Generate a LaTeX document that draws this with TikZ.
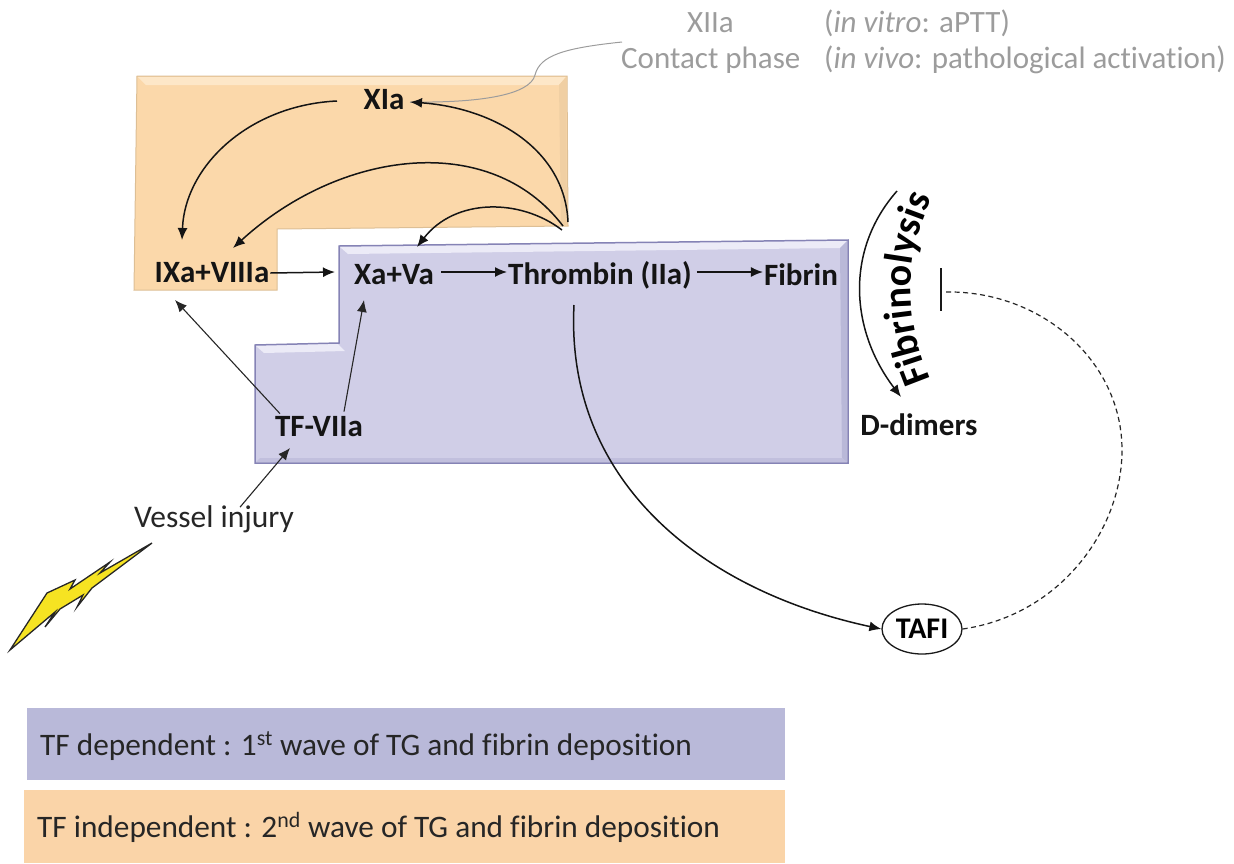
\documentclass[tikz,border=0pt]{standalone}
\usepackage{fontspec}
\setmainfont[Ligatures=NoCommon]{Carlito}
\usetikzlibrary{arrows.meta,decorations.text,shapes.geometric}
\definecolor{orfill}{HTML}{FBD8AA}
\definecolor{orlight}{HTML}{FDE7C8}
\definecolor{ordark}{HTML}{DDBF95}
\definecolor{pufill}{HTML}{D0CEE7}
\definecolor{pulight}{HTML}{ECEBF7}
\definecolor{pudark}{HTML}{8583B5}
\definecolor{legpu}{HTML}{B9B9D9}
\definecolor{legor}{HTML}{FAD4A8}
\definecolor{gtext}{HTML}{9C9C9C}
\definecolor{bolt}{HTML}{F6E322}
\tikzset{
  lab/.style={font=\fontsize{31}{34}\selectfont\bfseries,inner sep=1pt,text=black!92},
  greylab/.style={font=\fontsize{31}{34}\selectfont,text=gtext,anchor=base west,inner sep=0pt},
  leglab/.style={font=\fontsize{31.3}{35}\selectfont,anchor=base west,inner sep=0pt,text=black!85},
  arr/.style={draw=black!92,line width=1.5pt,-{Latex[length=12pt,width=10pt]}},
  thin arr/.style={draw=black!85,line width=1.1pt,-{Latex[length=12pt,width=10pt]}}
}
\begin{document}
\begin{tikzpicture}[x=1pt,y=-1pt]
\useasboundingbox (0,0) rectangle (1234,863);
% orange region
\fill[orfill,draw=ordark,line width=1pt] (137,76)--(567,76)--(568,226)--(277,229)--(277,290)--(134,290)--cycle;
\fill[orlight] (138,77)--(566,77)--(559,85)--(146,85)--cycle;
\fill[ordark!35!orfill] (566,77)--(567,225)--(561,225)--(559,85)--cycle;
% purple region
\fill[pufill,draw=pudark,line width=1.5pt] (339,246)--(848,240)--(848,463)--(255,463)--(255,345)--(339,343)--cycle;
\fill[pulight] (340,247)--(847,241)--(840,248)--(348,254)--cycle;
\fill[pulight] (256,346)--(338,344)--(345,351)--(264,353)--cycle;
\fill[pudark!30!pufill] (847,241)--(847,462)--(842,458)--(840,248)--cycle;
\fill[pudark!20!pufill] (256,462)--(847,462)--(842,458)--(260,458)--cycle;
% lightning
\fill[bolt,draw=black!85,line width=1.3pt,line join=miter]
 (10,650)--(47,593)--(75,580)--(70,589)--(110,562)--(100,573)--(152,543)--(92,588)--(77,607)--(83,595)--(60,609)--(45,627)--(55,612)--cycle;
% legend
\fill[legpu] (27,708) rectangle (785,780);
\fill[legor] (24,790) rectangle (785,863);
\node[leglab] (l1) at (40,755) {TF dependent : 1\textsuperscript{st} wave of TG and fibrin deposition};
\node[leglab] (l2) at (37,837) {TF independent : 2\textsuperscript{nd} wave of TG and fibrin deposition};
% grey labels
\node[greylab] (g1) at (687,32) {XIIa};
\node[greylab] (g2) at (824,32) {(\textit{in vitro}: aPTT)};
\node[greylab] (g3) at (621,68) {Contact phase};
\node[greylab] (g4) at (824,68) {(\textit{in vivo}: pathological activation)};
% main labels
\node[lab] (xia) at (384,100) {XIa};
\node[lab] (ix) at (212,273) {IXa+VIIIa};
\node[lab] (xa) at (394,275) {Xa+Va};
\node[lab] (thr) at (600,275) {Thrombin (IIa)};
\node[lab] (fib) at (801,275) {Fibrin};
\node[lab] (tf) at (319,427) {TF-VIIa};
\node[lab] (dd) at (919,425) {D-dimers};
\node[font=\fontsize{31.5}{34}\selectfont,text=black!85,inner sep=1pt] (ves) at (214,519) {Vessel injury};
\node[draw=black!90,line width=1.3pt,fill=white,ellipse,minimum width=80pt,minimum height=50pt,inner sep=0pt,font=\fontsize{30}{32}\selectfont\bfseries] (tafi) at (922,629) {TAFI};
% anchors for free ends
\coordinate (apex1) at (568,222);
\coordinate (apex2) at (563,226);
\coordinate (apex3) at (562,230);
\coordinate (xiaout) at (337,101);
\coordinate (ixin1) at (182,240);
\coordinate (ixin2) at (233,248);
\coordinate (xain) at (417,247);
\coordinate (xiain) at (410,102);
\coordinate (contact) at (622,42);
\coordinate (tbar) at (945,292);
\coordinate (tbara) at (941,268);
\coordinate (tbarb) at (941,311);
\coordinate (fibstart) at (897,191);
\coordinate (fibend) at (901,397);
\coordinate (thrdown) at (574,305);
\coordinate (xaw) at (335,272);
% curved arrows
\draw[gtext,line width=1pt] (contact) .. controls (565,48) and (540,55) .. (535,75) .. controls (530,95) and (480,103) .. (xiain);
\draw[arr] (xiaout) .. controls (250,105) and (185,165) .. (ixin1);
\draw[arr] (apex1) .. controls (565,150) and (495,108) .. (xiain);
\draw[arr] (apex2) .. controls (490,130) and (340,150) .. (ixin2);
\draw[arr] (apex3) .. controls (520,198) and (455,198) .. (xain);
% straight arrows
\draw[arr] (ix.east) -- (xaw);
\draw[arr] (xa.east) ++(6,-3) -- ([yshift=3pt]thr.west);
\draw[arr] (thr.east) ++(4,-3) -- ([yshift=3pt]fib.west);
\draw[thin arr] (tf.north) ++(-39,-2) -- (175,300);
\draw[thin arr] (tf.north) ++(25,-4) -- (364,300);
\draw[thin arr] (ves.north) ++(26,3) -- (290,448);
% thrombin to TAFI
\draw[arr] (thrdown) .. controls (565,480) and (700,590) .. (tafi.west);
% dashed inhibition
\draw[black!85,line width=1.2pt,dash pattern=on 5pt off 3.5pt] (tafi.east) .. controls (1060,615) and (1122,530) .. (1122,450) .. controls (1122,360) and (1040,290) .. (tbar);
\draw[black!90,line width=1.4pt] (tbara) -- (tbarb);
% fibrinolysis
\draw[arr] (fibstart) .. controls (845,250) and (850,330) .. (fibend);
\path[decorate,decoration={text along path,text align=center,text={|\fontsize{40}{42}\selectfont\bfseries|Fibrinolysis}}]
  (936,392) .. controls (903,320) and (900,260) .. (938,186);
\end{tikzpicture}
\end{document}
